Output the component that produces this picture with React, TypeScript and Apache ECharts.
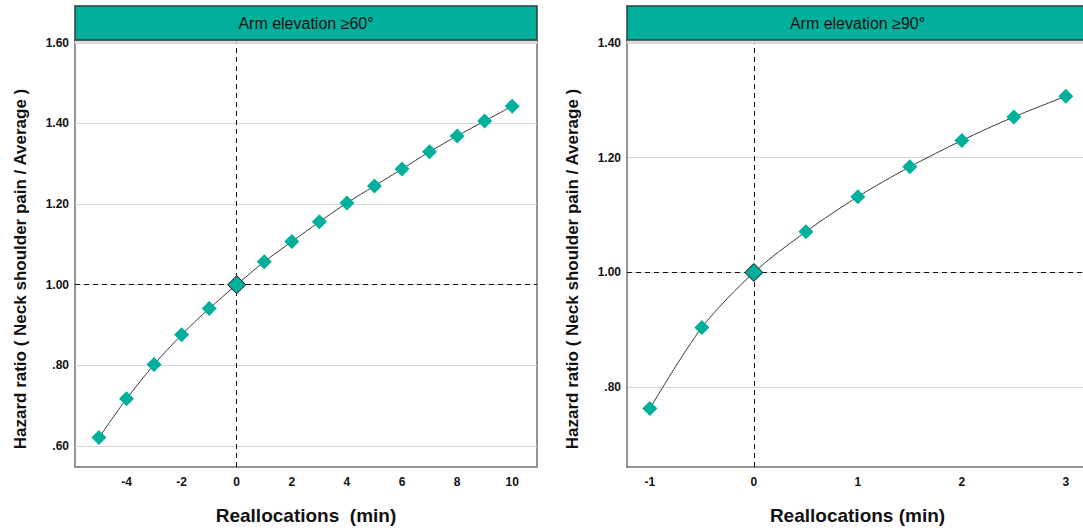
import React, { useEffect, useRef } from 'react';
import * as echarts from 'echarts';

// ---- data ----
const xLeft = [-5, -4, -3, -2, -1, 0, 1, 2, 3, 4, 5, 6, 7, 8, 9, 10];
const hrLeft = [0.621, 0.717, 0.802, 0.876, 0.941, 1.0, 1.057, 1.107, 1.156, 1.203, 1.245, 1.287, 1.33, 1.369, 1.406, 1.443];
const xRight = [-1, -0.5, 0, 0.5, 1, 1.5, 2, 2.5, 3];
const hrRight = [0.763, 0.904, 1.0, 1.071, 1.132, 1.184, 1.23, 1.271, 1.307];

const xTicksLeft = [-4, -2, 0, 2, 4, 6, 8, 10];
const yTicksLeft = [0.6, 0.8, 1.0, 1.2, 1.4, 1.6];
const xTicksRight = [-1, 0, 1, 2, 3];
const yTicksRight = [0.8, 1.0, 1.2, 1.4];

const panelTitles = ['Arm elevation \u226560\u00b0', 'Arm elevation \u226590\u00b0'];
const xTitles = ['Reallocations  (min)', 'Reallocations (min)'];
const yTitle = 'Hazard ratio ( Neck shoulder pain / Average )';

const TEAL = '#00b09c';
const FRAME = '#707070';
const FONT = "'Liberation Sans', Arial, sans-serif";

const fmtY = (v: number) => {
  const s = v.toFixed(2);
  return v < 1 ? s.replace(/^0/, '') : s;
};

const panels = [
  { left: 75, width: 462, headerW: 462, xMin: -5.87, xMax: 10.9, yMin: 0.548, yMax: 1.607, frame: true },
  { left: 627, width: 456, headerW: 461, xMin: -1.22, xMax: 3.165, yMin: 0.661, yMax: 1.405, frame: false },
];
const TOP = 40;
const HEIGHT = 427;

function buildOption() {
  const xTicks = [xTicksLeft, xTicksRight];
  const yTicks = [yTicksLeft, yTicksRight];
  const xs = [xLeft, xRight];
  const ys = [hrLeft, hrRight];

  const grid = panels.map((p) => ({
    left: p.left,
    top: TOP,
    width: p.width,
    height: HEIGHT,
    show: p.frame,
    borderColor: FRAME,
    borderWidth: 1.5,
    backgroundColor: '#fff',
  }));

  const xAxis = panels.map((p, i) => ({
    type: 'value',
    gridIndex: i,
    min: p.xMin,
    max: p.xMax,
    axisLine: { show: !p.frame, onZero: false, lineStyle: { color: FRAME, width: 1.5 } },
    axisTick: { show: false, customValues: xTicks[i] },
    splitLine: { show: false },
    axisLabel: {
      customValues: xTicks[i],
      margin: 9,
      fontSize: 12,
      fontWeight: 'bold',
      color: '#111',
      fontFamily: FONT,
      formatter: (v: number) => String(v),
    },
  }));

  const yAxis = panels.map((p, i) => ({
    type: 'value',
    gridIndex: i,
    min: p.yMin,
    max: p.yMax,
    axisLine: { show: !p.frame, onZero: false, lineStyle: { color: FRAME, width: 1.5 } },
    axisTick: { show: false, customValues: yTicks[i] },
    splitLine: { show: true, lineStyle: { color: '#d6d6d6', width: 1 } },
    axisLabel: {
      customValues: yTicks[i],
      margin: 6,
      fontSize: 12,
      fontWeight: 'bold',
      color: '#111',
      fontFamily: FONT,
      formatter: (v: number) => fmtY(v),
    },
  }));

  const series = panels.map((p, i) => ({
    type: 'line',
    xAxisIndex: i,
    yAxisIndex: i,
    smooth: 0.3,
    symbol: 'diamond',
    symbolSize: 15,
    lineStyle: { color: '#3a3a3a', width: 1 },
    itemStyle: { color: TEAL },
    z: 5,
    data: xs[i].map((x, j) =>
      x === 0
        ? { value: [x, ys[i][j]], symbolSize: 18, itemStyle: { color: TEAL, borderColor: '#111', borderWidth: 1 } }
        : { value: [x, ys[i][j]] }
    ),
    markLine: {
      silent: true,
      symbol: 'none',
      label: { show: false },
      lineStyle: { color: '#111', type: [5, 4], width: 1 },
      data: [{ xAxis: 0 }, { yAxis: 1 }],
      z: 2,
    },
  }));

  const graphic: any[] = [];
  panels.forEach((p, i) => {
    graphic.push({
      type: 'rect',
      shape: { x: p.left, y: TOP + 0.5, width: p.headerW, height: 3 },
      style: { fill: '#dcdcdc' },
      z: 10,
    });
    graphic.push({
      type: 'rect',
      shape: { x: p.left, y: 6, width: p.headerW, height: 34 },
      style: { fill: TEAL, stroke: '#2f3f3c', lineWidth: 1.5 },
      z: 11,
    });
    graphic.push({
      type: 'text',
      x: p.left + p.headerW / 2,
      y: 23,
      z: 12,
      style: {
        text: panelTitles[i],
        fill: '#111',
        font: `16px ${FONT}`,
        align: 'center',
        verticalAlign: 'middle',
      },
    });
    graphic.push({
      type: 'text',
      x: p.left + p.headerW / 2,
      y: 515,
      z: 12,
      style: {
        text: xTitles[i],
        fill: '#111',
        font: `bold 19px ${FONT}`,
        align: 'center',
        verticalAlign: 'middle',
      },
    });
    graphic.push({
      type: 'text',
      x: p.left - 55,
      y: 269,
      rotation: Math.PI / 2,
      z: 12,
      style: {
        text: yTitle,
        fill: '#111',
        font: `bold 17px ${FONT}`,
        align: 'center',
        verticalAlign: 'middle',
      },
    });
  });

  return {
    animation: false,
    backgroundColor: '#fff',
    grid,
    xAxis,
    yAxis,
    series,
    graphic,
  };
}

export default function App() {
  const ref = useRef<HTMLDivElement>(null);
  useEffect(() => {
    const chart = echarts.init(ref.current!, null, { renderer: 'svg' });
    chart.setOption(buildOption() as any);
    return () => chart.dispose();
  }, []);
  return (
    <div
      ref={ref}
      style={{ position: 'fixed', left: 0, top: 0, width: 1083, height: 530, background: '#fff' }}
    />
  );
}
